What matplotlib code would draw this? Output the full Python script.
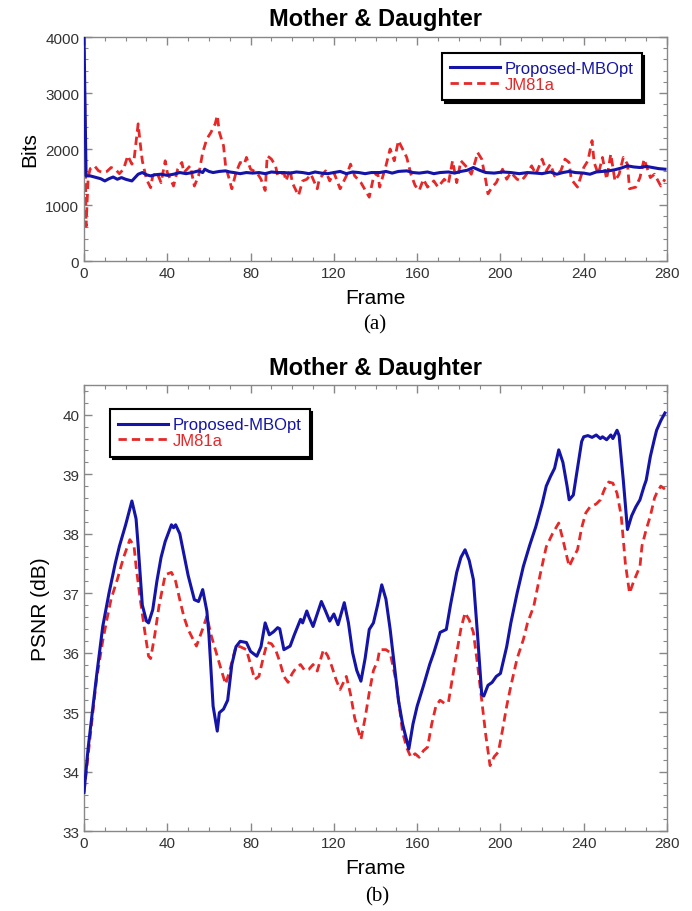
import numpy as np
import matplotlib
matplotlib.use('Agg')
import matplotlib.pyplot as plt
from matplotlib.ticker import MultipleLocator

plt.rcParams['font.family'] = ['Liberation Sans', 'DejaVu Sans']

# ---- (a) bits per frame ----
bits_mbopt_f = [0, 1, 3, 6, 8, 10, 12, 14, 16, 18, 20, 23, 26, 28, 30, 32, 34, 37, 40, 43,
                46, 49, 52, 55, 57, 58, 60, 62, 65, 68, 70, 72, 75, 78, 81, 84, 87, 90, 93, 96,
                99, 102, 105, 108, 111, 114, 117, 120, 123, 126, 129, 132, 135, 138, 142, 145,
                148, 151, 155, 158, 161, 165, 168, 171, 175, 178, 181, 184, 187, 190, 193, 197,
                201, 205, 209, 213, 217, 220, 224, 227, 230, 233, 236, 240, 243, 246, 249, 252,
                255, 258, 261, 264, 267, 270, 273, 276, 279]
bits_mbopt = [4000, 1520, 1520, 1490, 1470, 1430, 1470, 1500, 1460, 1490, 1460, 1430, 1550,
              1580, 1540, 1520, 1540, 1550, 1530, 1550, 1580, 1560, 1580, 1610, 1580, 1640,
              1600, 1580, 1600, 1610, 1590, 1580, 1560, 1580, 1570, 1580, 1560, 1590, 1580,
              1580, 1570, 1590, 1580, 1560, 1590, 1570, 1560, 1580, 1600, 1560, 1590, 1580,
              1560, 1580, 1580, 1600, 1570, 1600, 1610, 1580, 1570, 1590, 1560, 1580, 1590,
              1570, 1600, 1620, 1670, 1620, 1580, 1570, 1590, 1580, 1560, 1580, 1570, 1560,
              1590, 1550, 1580, 1600, 1580, 1570, 1550, 1590, 1600, 1610, 1630, 1660, 1700,
              1680, 1670, 1690, 1670, 1650, 1640]

bits_jm_f = [0, 1, 2, 3, 5, 7, 9, 11, 13, 15, 17, 19, 21, 23, 24, 26, 27, 28, 30, 32, 33, 35,
             37, 39, 40, 43, 45, 47, 48, 51, 53, 55, 57, 59, 61, 63, 64, 65, 67, 68, 71, 73,
             75, 77, 78, 80, 83, 85, 87, 88, 90, 92, 93, 96, 97, 99, 100, 103, 105, 107, 109,
             112, 113, 116, 118, 120, 123, 126, 128, 130, 133, 137, 139, 141, 142, 145, 147,
             149, 151, 153, 155, 157, 159, 161, 163, 165, 168, 170, 173, 175, 177, 179, 181,
             184, 186, 188, 189, 191, 193, 194, 196, 198, 201, 203, 205, 208, 210, 212, 215,
             217, 220, 222, 224, 226, 229, 231, 233, 234, 237, 240, 242, 244, 245, 247, 249,
             251, 253, 255, 257, 259, 261, 262, 265, 267, 269, 272, 274, 277, 279]
bits_jm = [4000, 620, 1500, 1650, 1700, 1610, 1580, 1600, 1670, 1640, 1560, 1640, 1880, 1730,
           1800, 2450, 2100, 1790, 1460, 1310, 1520, 1580, 1400, 1790, 1580, 1340, 1640, 1760,
           1580, 1700, 1340, 1520, 1940, 2180, 2300, 2450, 2600, 2300, 2060, 1700, 1290, 1580,
           1760, 1730, 1850, 1640, 1580, 1460, 1260, 1880, 1820, 1700, 1520, 1580, 1430, 1640,
           1400, 1170, 1430, 1460, 1550, 1290, 1460, 1610, 1430, 1580, 1290, 1520, 1730, 1520,
           1400, 1140, 1490, 1580, 1320, 1700, 2000, 1790, 2150, 2000, 1850, 1550, 1350, 1260,
           1460, 1320, 1430, 1320, 1460, 1380, 1790, 1400, 1790, 1670, 1550, 1790, 1940, 1820,
           1430, 1200, 1320, 1400, 1640, 1460, 1580, 1460, 1430, 1520, 1700, 1550, 1820, 1610,
           1730, 1520, 1610, 1820, 1760, 1460, 1320, 1670, 1790, 2150, 1760, 1550, 1850, 1460,
           1910, 1430, 1550, 1850, 1730, 1290, 1320, 1490, 1820, 1490, 1550, 1340, 1460]

# ---- (b) PSNR per frame ----
psnr_mbopt_f = [0, 2, 4, 6, 9, 12, 15, 17, 20, 23, 25, 26, 28, 30, 31, 33, 35, 37, 39, 42, 43,
                44, 46, 48, 50, 53, 55, 57, 59, 60, 62, 64, 65, 67, 69, 71, 73, 75, 78, 80, 83,
                85, 87, 89, 91, 93, 94, 96, 99, 101, 104, 105, 107, 108, 110, 112, 114, 116,
                118, 120, 122, 125, 127, 129, 131, 133, 135, 137, 139, 141, 143, 145, 147, 149,
                151, 153, 156, 158, 160, 163, 166, 168, 171, 174, 176, 179, 181, 183, 185, 187,
                189, 191, 192, 194, 196, 198, 200, 203, 205, 208, 211, 214, 217, 220, 222, 224,
                226, 228, 230, 232, 233, 235, 237, 239, 240, 242, 244, 246, 248, 249, 251, 253,
                254, 256, 257, 259, 261, 263, 265, 267, 269, 270, 272, 274, 275, 277, 279]
psnr_mbopt = [33.65, 34.4, 35.0, 35.6, 36.44, 37.0, 37.5, 37.79, 38.15, 38.55, 38.25, 37.8,
              36.8, 36.53, 36.5, 36.72, 37.2, 37.6, 37.87, 38.15, 38.1, 38.15, 38.0, 37.65,
              37.3, 36.89, 36.86, 37.06, 36.7, 36.3, 35.1, 34.68, 34.99, 35.05, 35.2, 35.8,
              36.1, 36.19, 36.17, 36.02, 35.94, 36.1, 36.5, 36.3, 36.35, 36.42, 36.4, 36.05,
              36.11, 36.3, 36.56, 36.5, 36.7, 36.6, 36.44, 36.65, 36.86, 36.7, 36.53, 36.65,
              36.47, 36.84, 36.5, 36.0, 35.7, 35.52, 35.9, 36.39, 36.5, 36.8, 37.14, 36.9,
              36.4, 35.8, 35.2, 34.8, 34.38, 34.8, 35.1, 35.44, 35.8, 36.0, 36.34, 36.39,
              36.8, 37.35, 37.6, 37.73, 37.55, 37.23, 36.3, 35.3, 35.27, 35.45, 35.5, 35.6,
              35.65, 36.1, 36.5, 37.0, 37.45, 37.8, 38.12, 38.5, 38.8, 38.96, 39.1, 39.41,
              39.2, 38.8, 38.57, 38.65, 39.1, 39.55, 39.63, 39.65, 39.62, 39.66, 39.6, 39.63,
              39.58, 39.66, 39.6, 39.74, 39.65, 38.9, 38.07, 38.3, 38.45, 38.57, 38.8, 38.9,
              39.3, 39.6, 39.74, 39.9, 40.03]

psnr_jm_f = [0, 3, 6, 9, 11, 13, 16, 19, 22, 24, 25, 27, 29, 31, 32, 34, 36, 39, 42, 44, 46,
             48, 50, 52, 54, 57, 59, 61, 64, 66, 68, 70, 73, 75, 78, 80, 82, 84, 86, 88, 90,
             92, 94, 96, 98, 100, 102, 104, 106, 108, 110, 112, 115, 117, 119, 121, 123, 126,
             128, 130, 133, 135, 137, 139, 141, 142, 145, 147, 150, 153, 155, 157, 159, 161,
             163, 165, 167, 169, 171, 173, 175, 178, 181, 183, 185, 187, 189, 191, 193, 195,
             197, 199, 201, 203, 205, 208, 211, 213, 216, 219, 222, 225, 228, 230, 233, 235,
             237, 239, 241, 243, 246, 248, 250, 252, 254, 256, 258, 260, 262, 264, 267, 268,
             270, 272, 274, 275, 277, 279]
psnr_jm = [33.65, 34.6, 35.55, 36.2, 36.56, 36.9, 37.23, 37.6, 37.9, 37.8, 37.45, 36.9, 36.4,
           35.94, 35.9, 36.3, 36.78, 37.31, 37.35, 37.2, 36.89, 36.6, 36.39, 36.25, 36.11,
           36.4, 36.61, 36.3, 35.94, 35.7, 35.47, 35.7, 36.11, 36.1, 36.05, 35.8, 35.55,
           35.6, 35.9, 36.17, 36.15, 36.05, 35.85, 35.6, 35.5, 35.65, 35.75, 35.8, 35.7,
           35.72, 35.8, 35.69, 36.05, 35.95, 35.77, 35.55, 35.38, 35.6, 35.3, 34.9, 34.54,
           34.9, 35.33, 35.7, 35.86, 36.05, 36.05, 36.0, 35.5, 34.66, 34.4, 34.24, 34.3,
           34.24, 34.35, 34.41, 34.8, 35.1, 35.2, 35.15, 35.16, 35.8, 36.4, 36.67, 36.55,
           36.34, 35.8, 35.2, 34.6, 34.1, 34.25, 34.33, 34.7, 35.1, 35.44, 35.9, 36.22, 36.5,
           36.78, 37.3, 37.78, 38.0, 38.18, 37.9, 37.45, 37.6, 37.73, 38.1, 38.35, 38.45,
           38.5, 38.57, 38.75, 38.87, 38.85, 38.68, 38.3, 37.5, 37.0, 37.2, 37.45, 37.8,
           38.07, 38.3, 38.6, 38.68, 38.8, 38.75]

blue = '#1414a8'
red = '#e62828'
spine_gray = '#888888'

fig = plt.figure(figsize=(6.92, 9.12), dpi=100)
ax1 = fig.add_axes([0.1214, 0.7127, 0.8425, 0.2456])
ax2 = fig.add_axes([0.1214, 0.0877, 0.8425, 0.489])


def style_axis(ax):
    for s in ax.spines.values():
        s.set_color(spine_gray)
        s.set_linewidth(1.0)
    ax.tick_params(which='both', direction='in', top=True, right=True,
                   color=spine_gray, labelcolor='#333333', labelsize=11)
    ax.tick_params(which='major', length=6, width=1)
    ax.tick_params(which='minor', length=3, width=0.8)
    ax.set_xlim(0, 280)
    ax.xaxis.set_major_locator(MultipleLocator(40))
    ax.xaxis.set_minor_locator(MultipleLocator(10))
    ax.set_xlabel('Frame', fontsize=15, labelpad=6)


def add_legend(ax, anchor):
    leg = ax.legend(loc='upper left', bbox_to_anchor=anchor, fontsize=12,
                    frameon=True, fancybox=False, shadow={'color': 'black', 'alpha': 1},
                    edgecolor='black', handlelength=3.0, handletextpad=0.25,
                    borderpad=0.5, labelspacing=0.05, borderaxespad=0)
    leg.get_frame().set_linewidth(1.5)
    for txt, c in zip(leg.get_texts(), [blue, red]):
        txt.set_color(c)


# (a)
ax1.plot(bits_mbopt_f, bits_mbopt, color=blue, lw=2.2, label='Proposed-MBOpt', zorder=3)
ax1.plot(bits_jm_f, bits_jm, color=red, lw=2.0, ls=(0, (3, 1.8)), label='JM81a', zorder=2)
style_axis(ax1)
ax1.set_ylim(0, 4000)
ax1.yaxis.set_major_locator(MultipleLocator(1000))
ax1.yaxis.set_minor_locator(MultipleLocator(200))
ax1.set_ylabel('Bits', fontsize=15)
ax1.yaxis.set_label_coords(-0.077, 0.5)
ax1.set_title('Mother & Daughter', fontsize=17, fontweight='bold', pad=9)
add_legend(ax1, (0.614, 0.929))

# (b)
ax2.plot(psnr_mbopt_f, psnr_mbopt, color=blue, lw=2.2, label='Proposed-MBOpt', zorder=3)
ax2.plot(psnr_jm_f, psnr_jm, color=red, lw=2.0, ls=(0, (3, 1.8)), label='JM81a', zorder=2)
style_axis(ax2)
ax2.set_ylim(33, 40.5)
ax2.yaxis.set_major_locator(MultipleLocator(1))
ax2.yaxis.set_minor_locator(MultipleLocator(0.2))
ax2.set_ylabel('PSNR (dB)', fontsize=15)
ax2.yaxis.set_label_coords(-0.058, 0.5)
ax2.set_title('Mother & Daughter', fontsize=17, fontweight='bold', pad=8)
add_legend(ax2, (0.0446, 0.946))

fig.text(0.541, 1 - 325 / 912, '(a)', ha='center', va='center',
         fontsize=15, family='Liberation Serif')
fig.text(0.545, 1 - 897 / 912, '(b)', ha='center', va='center',
         fontsize=15, family='Liberation Serif')

fig.savefig('out.png', dpi=100)
